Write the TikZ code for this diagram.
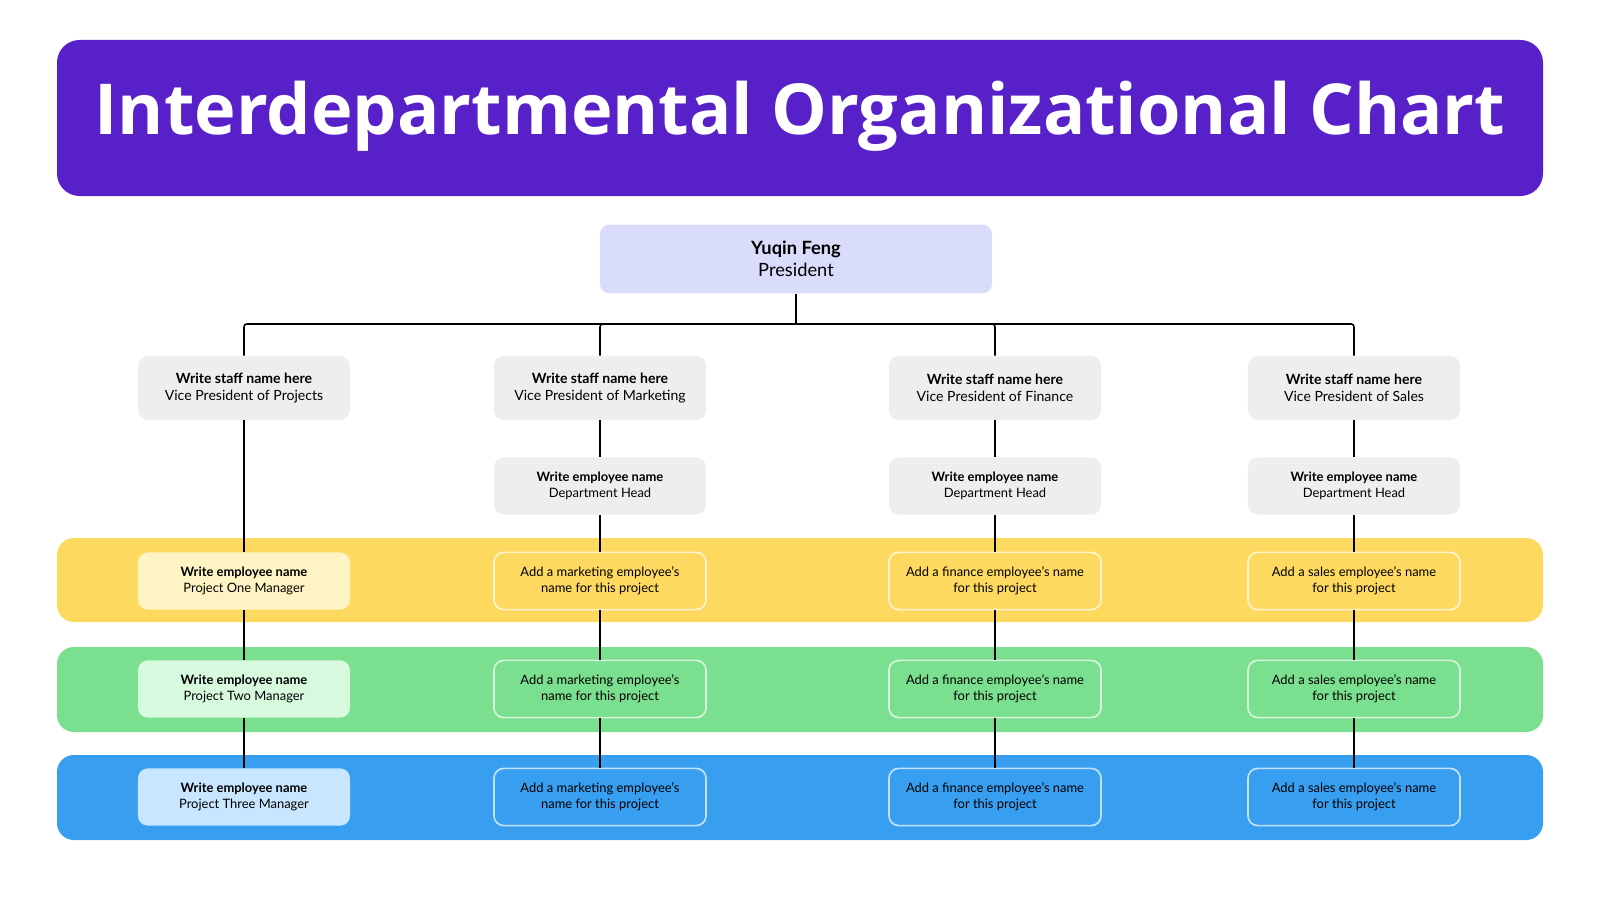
\documentclass[tikz,border=0pt]{standalone}
\usepackage{fontspec}
\setmainfont{Lato}
\newfontfamily\titlefont{Open Sans}
\usetikzlibrary{positioning, calc}
\definecolor{org_purple}{RGB}{87, 32, 200}
\definecolor{org_lav}{RGB}{217, 220, 251}
\definecolor{org_grey}{RGB}{238, 238, 238}
\definecolor{org_yellow}{RGB}{253, 217, 95}
\definecolor{org_yellowl}{RGB}{254, 243, 195}
\definecolor{org_green}{RGB}{122, 223, 142}
\definecolor{org_greenl}{RGB}{215, 250, 223}
\definecolor{org_blue}{RGB}{56, 159, 240}
\definecolor{org_bluel}{RGB}{200, 230, 253}
\begin{document}
\begin{tikzpicture}[
        x=0.025cm, y=-0.025cm,
        band/.style={rounded corners=12pt, draw=none},
        box/.style={rounded corners=7pt, minimum width=5.3cm, minimum height=1.6cm,
                    align=center, font=\fontsize{10}{12}\selectfont, inner sep=0pt},
        card/.style={box, minimum height=1.43cm, font=\fontsize{9.2}{11.5}\selectfont},
        open/.style={card, draw=white!70!#1, line width=1.2pt, fill=#1},
        link/.style={black, line width=1.1pt},
      ]
        \useasboundingbox (0,0) rectangle (1600,900);
        % title
        \fill[org_purple, band, rounded corners=16pt] (57,40) rectangle (1543,196);
        \node[text=white, font=\titlefont\bfseries\fontsize{50}{56}\selectfont] (title) at (800,116) {Interdepartmental Organizational Chart};
        % project bands
        \fill[org_yellow, band] (57,538) rectangle (1543,622);
        \fill[org_green, band] (57,647) rectangle (1543,732);
        \fill[org_blue, band] (57,755) rectangle (1543,840);

        \node[box, fill=org_lav, minimum width=9.8cm, minimum height=1.72cm,
              font=\fontsize{13}{16}\selectfont] (pres) at (796,259) {\textbf{Yuqin Feng}\\President};

        \node[box, fill=org_grey] (vp1) at (244,388) {\textbf{Write staff name here}\\Vice President of Projects};
        \node[box, fill=org_grey] (vp2) at (600,388) {\textbf{Write staff name here}\\Vice President of Marketing};
        \node[box, fill=org_grey] (vp3) at (995,388) {\textbf{Write staff name here}\\Vice President of Finance};
        \node[box, fill=org_grey] (vp4) at (1354,388) {\textbf{Write staff name here}\\Vice President of Sales};

        \foreach \i/\x in {2/600, 3/995, 4/1354}
          \node[card, fill=org_grey] (head\i) at (\x,486) {\textbf{Write employee name}\\Department Head};

        \node[card, fill=org_yellowl] (p1a) at (244,581) {\textbf{Write employee name}\\Project One Manager};
        \node[card, fill=org_greenl] (p1b) at (244,689) {\textbf{Write employee name}\\Project Two Manager};
        \node[card, fill=org_bluel] (p1c) at (244,797) {\textbf{Write employee name}\\Project Three Manager};

        \foreach \i/\x/\t in {2/600/{Add a marketing employee's\\name for this project},
                              3/995/{Add a finance employee's name\\for this project},
                              4/1354/{Add a sales employee's name\\for this project}} {
          \node[open=org_yellow] (p\i a) at (\x,581) {\t};
          \node[open=org_green] (p\i b) at (\x,689) {\t};
          \node[open=org_blue] (p\i c) at (\x,797) {\t};
        }

        % connectors
        \coordinate (bus) at (0,324);
        \draw[link] (pres.south) -- (pres.south |- bus);
        \foreach \i in {1,...,4}
          \draw[link, rounded corners=2pt] (pres.south |- bus) -| (vp\i.north);
        \draw[link] (vp1) -- (p1a);
        \draw[link] (p1a) -- (p1b);
        \draw[link] (p1b) -- (p1c);
        \foreach \i in {2,3,4} {
          \draw[link] (vp\i) -- (head\i);
          \draw[link] (head\i) -- (p\i a);
          \draw[link] (p\i a) -- (p\i b);
          \draw[link] (p\i b) -- (p\i c);
        }
      \end{tikzpicture}
\end{document}
